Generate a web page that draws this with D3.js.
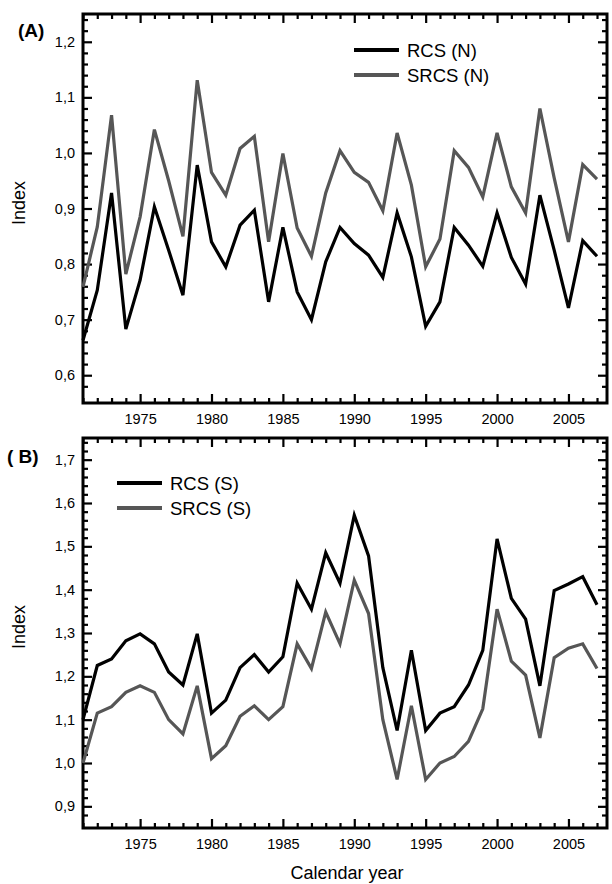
<!DOCTYPE html>
<html>
<head>
<meta charset="utf-8">
<script src="https://cdn.jsdelivr.net/npm/d3@7"></script>
<style>
  body { margin: 0; background: #fff; }
  svg { display: block; font-family: "Liberation Sans", Arial, sans-serif; }
</style>
</head>
<body>
<svg id="chart" width="612" height="884"></svg>
<script>
// calendar years on the x axis
const years = [1971, 1972, 1973, 1974, 1975, 1976, 1977, 1978, 1979, 1980,
  1981, 1982, 1983, 1984, 1985, 1986, 1987, 1988, 1989, 1990,
  1991, 1992, 1993, 1994, 1995, 1996, 1997, 1998, 1999, 2000,
  2001, 2002, 2003, 2004, 2005, 2006, 2007];

// panel A (north)
const rcsN = [0.663, 0.753, 0.928, 0.683, 0.771, 0.903, 0.825, 0.744, 0.978, 0.840,
  0.795, 0.870, 0.897, 0.732, 0.866, 0.750, 0.700, 0.804, 0.866, 0.837,
  0.816, 0.776, 0.892, 0.813, 0.688, 0.732, 0.866, 0.834, 0.796, 0.892,
  0.812, 0.764, 0.924, 0.825, 0.721, 0.842, 0.814];
const srcsN = [0.759, 0.867, 1.068, 0.782, 0.885, 1.042, 0.950, 0.850, 1.131, 0.965,
  0.924, 1.008, 1.030, 0.840, 0.999, 0.865, 0.814, 0.928, 1.004, 0.965,
  0.947, 0.896, 1.036, 0.942, 0.795, 0.845, 1.004, 0.974, 0.921, 1.036,
  0.939, 0.892, 1.080, 0.955, 0.840, 0.979, 0.953];

// panel B (south)
const rcsS = [1.100, 1.225, 1.240, 1.282, 1.298, 1.275, 1.210, 1.180, 1.298, 1.115,
  1.145, 1.220, 1.250, 1.210, 1.245, 1.415, 1.355, 1.485, 1.415, 1.572,
  1.478, 1.220, 1.075, 1.260, 1.075, 1.115, 1.130, 1.180, 1.260, 1.517,
  1.380, 1.332, 1.178, 1.398, 1.413, 1.430, 1.365];
const srcsS = [1.000, 1.115, 1.130, 1.163, 1.178, 1.163, 1.100, 1.067, 1.178, 1.010,
  1.040, 1.108, 1.132, 1.100, 1.130, 1.275, 1.218, 1.348, 1.275, 1.422,
  1.345, 1.100, 0.962, 1.132, 0.962, 1.000, 1.015, 1.050, 1.125, 1.355,
  1.235, 1.203, 1.058, 1.243, 1.265, 1.275, 1.218];

const yearTicks = [1975, 1980, 1985, 1990, 1995, 2000, 2005];
const yTicksA = [0.6, 0.7, 0.8, 0.9, 1.0, 1.1, 1.2];
const yTicksB = [0.9, 1.0, 1.1, 1.2, 1.3, 1.4, 1.5, 1.6, 1.7];

const BLACK = "#000";
const GREY = "#565656";

const svg = d3.select("#chart");
const x = d3.scaleLinear().domain([1971, 2007.7]).range([83, 607]);
const minorYears = years.filter((d) => !yearTicks.includes(d));

const fmt = (d) => d.toFixed(1).replace(".", ",");

function panel(cfg) {
  const y = d3.scaleLinear().domain(cfg.domain).range([cfg.bottom, cfg.top]);
  const g = svg.append("g");
  const x0 = x.range()[0], x1 = x.range()[1];

  // minor y ticks every 0.02
  const minorY = d3.range(Math.round(cfg.domain[0] * 50) + 1, Math.round(cfg.domain[1] * 50))
    .map((k) => k / 50)
    .filter((v) => !cfg.yTicks.some((t) => Math.abs(t - v) < 1e-6));

  const axes = [
    [d3.axisLeft(y), `translate(${x0},0)`, true],
    [d3.axisRight(y), `translate(${x1},0)`, false],
  ];
  axes.forEach(([ax, tr, labels]) => {
    g.append("g").attr("transform", tr)
      .call(ax.tickValues(minorY).tickSize(-5).tickFormat(""))
      .call((s) => s.select(".domain").remove());
    g.append("g").attr("transform", tr)
      .call(ax.tickValues(cfg.yTicks).tickSize(-9).tickPadding(8).tickFormat(labels ? fmt : ""))
      .call((s) => s.select(".domain").remove());
  });

  const xaxes = [
    [d3.axisBottom(x), `translate(0,${cfg.bottom})`, true],
    [d3.axisTop(x), `translate(0,${cfg.top})`, false],
  ];
  xaxes.forEach(([ax, tr, labels]) => {
    g.append("g").attr("transform", tr)
      .call(ax.tickValues(minorYears).tickSize(-5).tickFormat(""))
      .call((s) => s.select(".domain").remove());
    g.append("g").attr("transform", tr)
      .call(ax.tickValues(yearTicks).tickSize(-9).tickPadding(11).tickFormat(labels ? d3.format("d") : ""))
      .call((s) => s.select(".domain").remove());
  });

  g.selectAll(".tick line").attr("stroke", BLACK).attr("stroke-width", 2.2);
  g.selectAll(".tick text").attr("font-size", 14.5).attr("fill", BLACK)
    .attr("font-family", "'Liberation Sans', Arial, sans-serif");

  // frame
  g.append("rect")
    .attr("x", x0).attr("y", cfg.top)
    .attr("width", x1 - x0).attr("height", cfg.bottom - cfg.top)
    .attr("fill", "none").attr("stroke", BLACK).attr("stroke-width", 3);

  const line = d3.line().x((d, i) => x(years[i])).y((d) => y(d));
  cfg.series.forEach((s) => {
    g.append("path").datum(s.values)
      .attr("d", line)
      .attr("fill", "none")
      .attr("stroke", s.color)
      .attr("stroke-width", 3.2)
      .attr("stroke-linejoin", "miter");
  });

  // legend
  cfg.series.forEach((s, i) => {
    const ly = cfg.legend.y + i * 25;
    g.append("line")
      .attr("x1", cfg.legend.x).attr("x2", cfg.legend.x + 45)
      .attr("y1", ly).attr("y2", ly)
      .attr("stroke", s.color).attr("stroke-width", 4);
    g.append("text")
      .attr("x", cfg.legend.x + 53).attr("y", ly + 7)
      .attr("font-size", 18.5).attr("fill", BLACK)
      .text(s.name);
  });

  // y title
  g.append("text")
    .attr("transform", `translate(25,${cfg.titleY}) rotate(-90)`)
    .attr("text-anchor", "middle")
    .attr("font-size", 18).attr("fill", BLACK)
    .text("Index");

  // panel label
  g.append("text")
    .attr("x", cfg.label.x).attr("y", cfg.label.y)
    .attr("font-size", 19).attr("font-weight", "bold").attr("fill", BLACK)
    .attr("xml:space", "preserve")
    .text(cfg.label.text);
}

panel({
  domain: [0.55, 1.25], top: 14, bottom: 403, yTicks: yTicksA,
  series: [
    { name: "RCS (N)", values: rcsN, color: BLACK },
    { name: "SRCS (N)", values: srcsN, color: GREY },
  ],
  legend: { x: 354, y: 50 },
  titleY: 203,
  label: { x: 18, y: 37, text: "(A)" },
});

panel({
  domain: [0.85, 1.75], top: 438, bottom: 828, yTicks: yTicksB,
  series: [
    { name: "RCS (S)", values: rcsS, color: BLACK },
    { name: "SRCS (S)", values: srcsS, color: GREY },
  ],
  legend: { x: 117, y: 483 },
  titleY: 627,
  label: { x: 7, y: 463, text: "( B)" },
});

svg.append("text")
  .attr("x", 347).attr("y", 879)
  .attr("text-anchor", "middle")
  .attr("font-size", 18).attr("fill", BLACK)
  .text("Calendar year");
</script>
</body>
</html>
